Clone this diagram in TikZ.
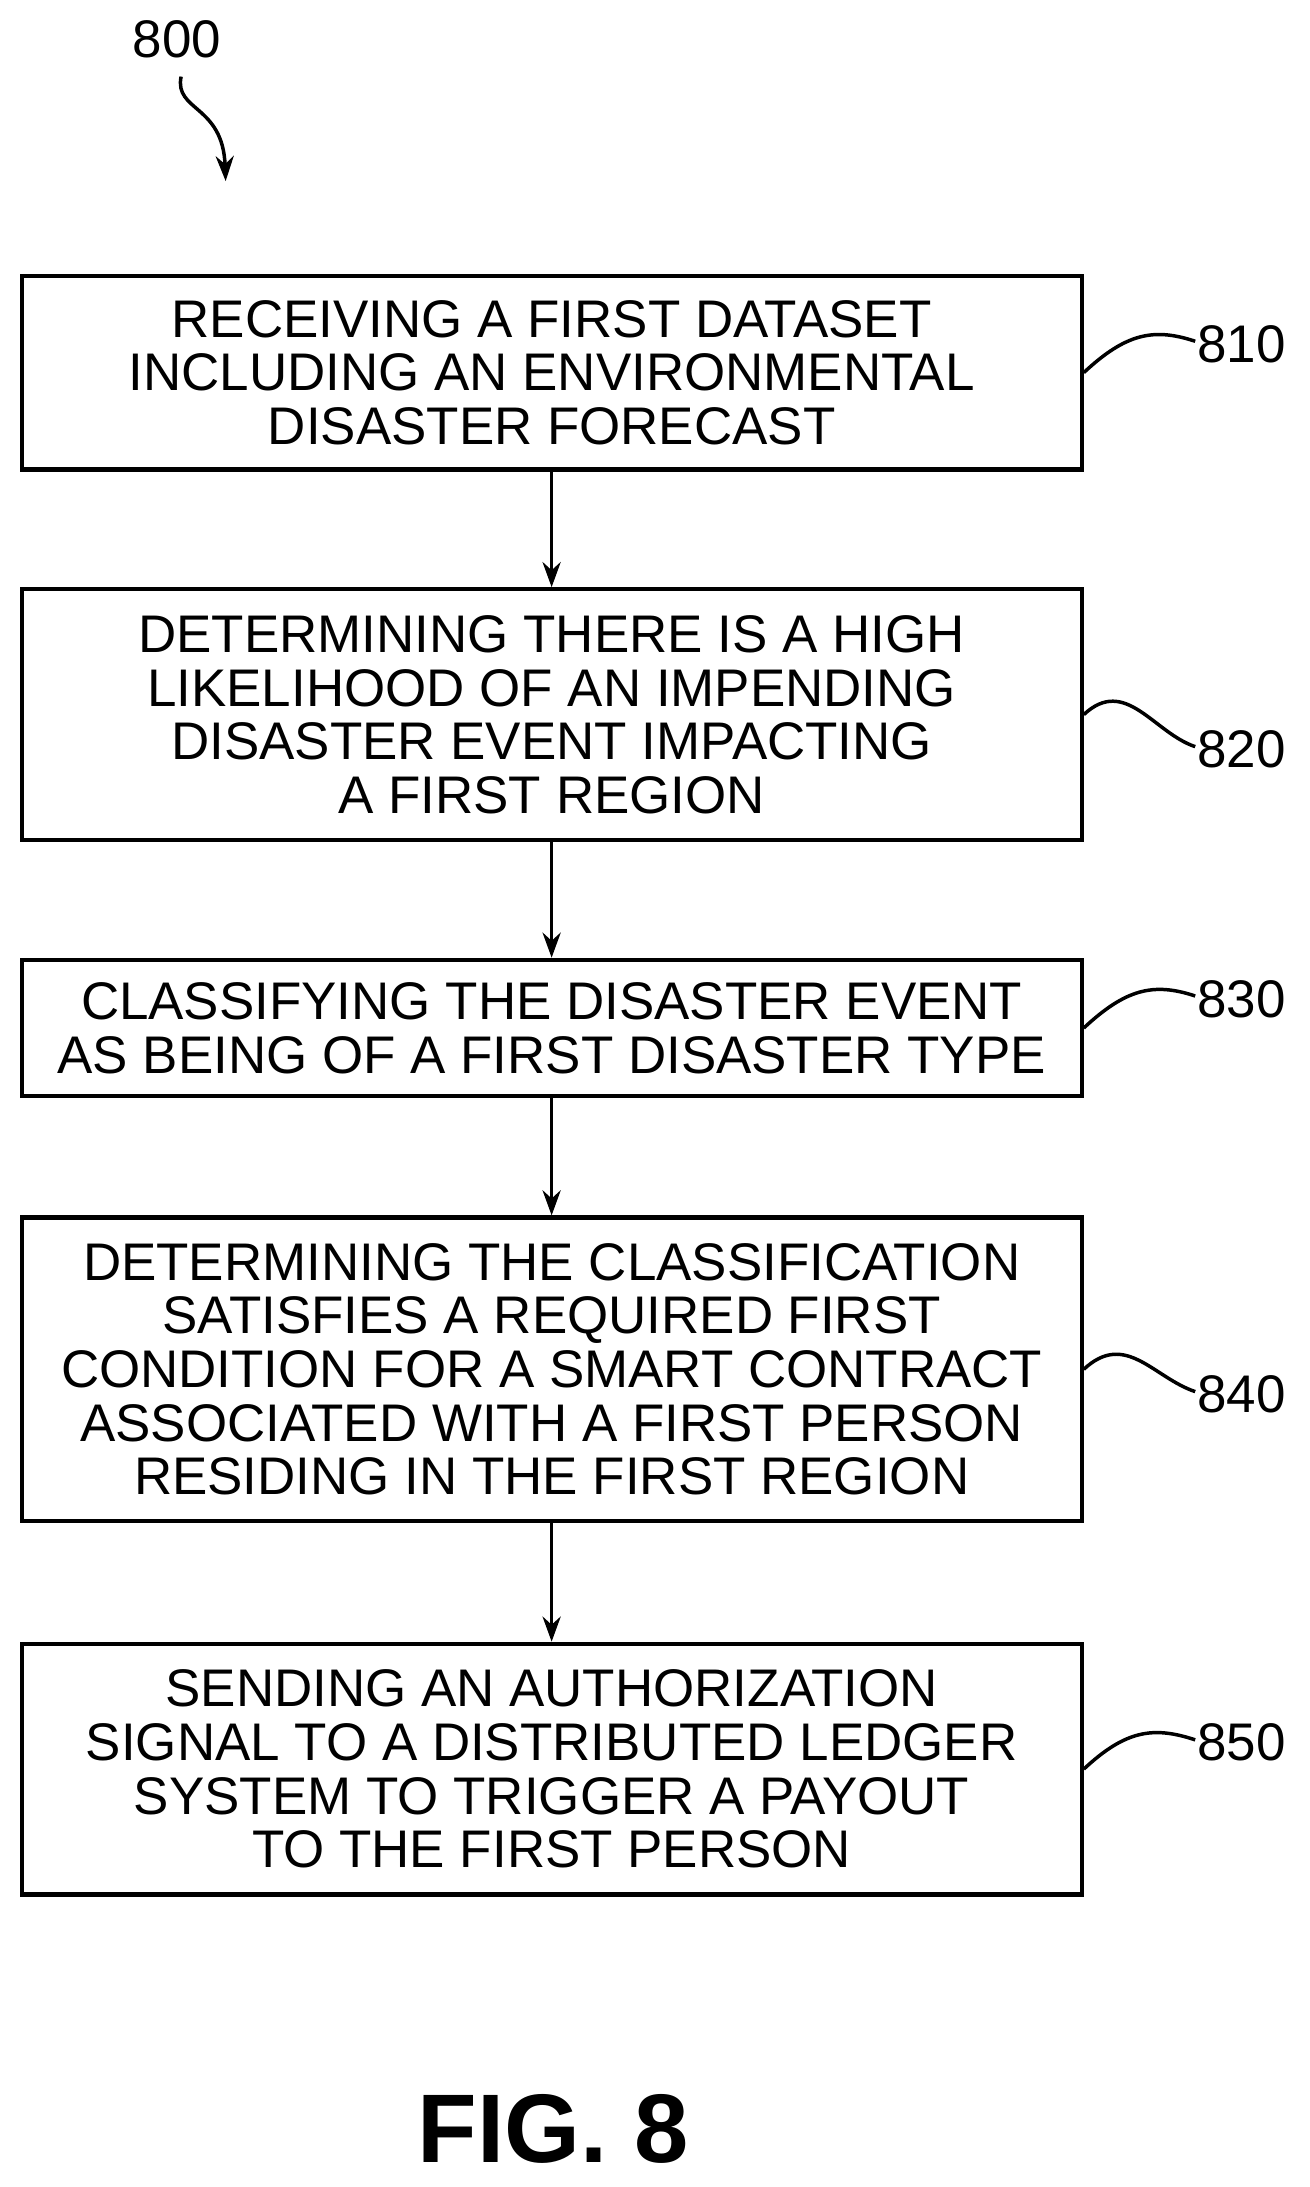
\documentclass[tikz,border=0pt]{standalone}
\usepackage{fontspec}
\setmainfont{Liberation Sans}
\usetikzlibrary{arrows.meta}
\begin{document}
\begin{tikzpicture}[x=1pt,y=-1pt,
 box/.style={draw,line width=3pt,minimum width=761pt,align=center,font=\fontsize{38}{38.5}\selectfont,inner sep=0pt},
 lab/.style={font=\fontsize{38}{40}\selectfont,anchor=west},
 arr/.style={line width=2.5pt,-{Stealth[length=18pt,width=13pt]}},
 sq/.style={line width=2.5pt}]
\useasboundingbox (0,0) rectangle (940,1570);
\node[box,minimum height=139pt] (b1) at (396,267.5) {RECEIVING A FIRST DATASET\\INCLUDING AN ENVIRONMENTAL\\DISASTER FORECAST};
\node[box,minimum height=180pt] (b2) at (396,513) {DETERMINING THERE IS A HIGH\\LIKELIHOOD OF AN IMPENDING\\DISASTER EVENT IMPACTING\\A FIRST REGION};
\node[box,minimum height=98pt] (b3) at (396,738) {CLASSIFYING THE DISASTER EVENT\\AS BEING OF A FIRST DISASTER TYPE};
\node[box,minimum height=218pt] (b4) at (396,983) {DETERMINING THE CLASSIFICATION\\SATISFIES A REQUIRED FIRST\\CONDITION FOR A SMART CONTRACT\\ASSOCIATED WITH A FIRST PERSON\\RESIDING IN THE FIRST REGION};
\node[box,minimum height=180pt] (b5) at (396,1270) {SENDING AN AUTHORIZATION\\SIGNAL TO A DISTRIBUTED LEDGER\\SYSTEM TO TRIGGER A PAYOUT\\TO THE FIRST PERSON};
\draw[arr] (b1) -- (b2);
\draw[arr] (b2) -- (b3);
\draw[arr] (b3) -- (b4);
\draw[arr] (b4) -- (b5);
\foreach \b/\t/\y in {b1/810/247,b2/820/538,b3/830/717,b4/840/1001,b5/850/1251}{
 \node[lab] (l\t) at (856,\y) {\t};
 \draw[sq] (\b.east) .. controls +(30,-28) and +(-30,-10) .. ([xshift=2pt,yshift=2pt]l\t.west);
}
\node[font=\fontsize{38}{40}\selectfont] (n800) at (127,28) {800};
\coordinate (t800) at (162,130);
\draw[line width=2.5pt,-{Stealth[length=18pt,width=13pt]}] (130,55) .. controls (125,80) and (160,75) .. (t800);
\node[font=\bfseries\fontsize{70}{72}\selectfont] (fig) at (397,1528) {FIG. 8};
\end{tikzpicture}
\end{document}
